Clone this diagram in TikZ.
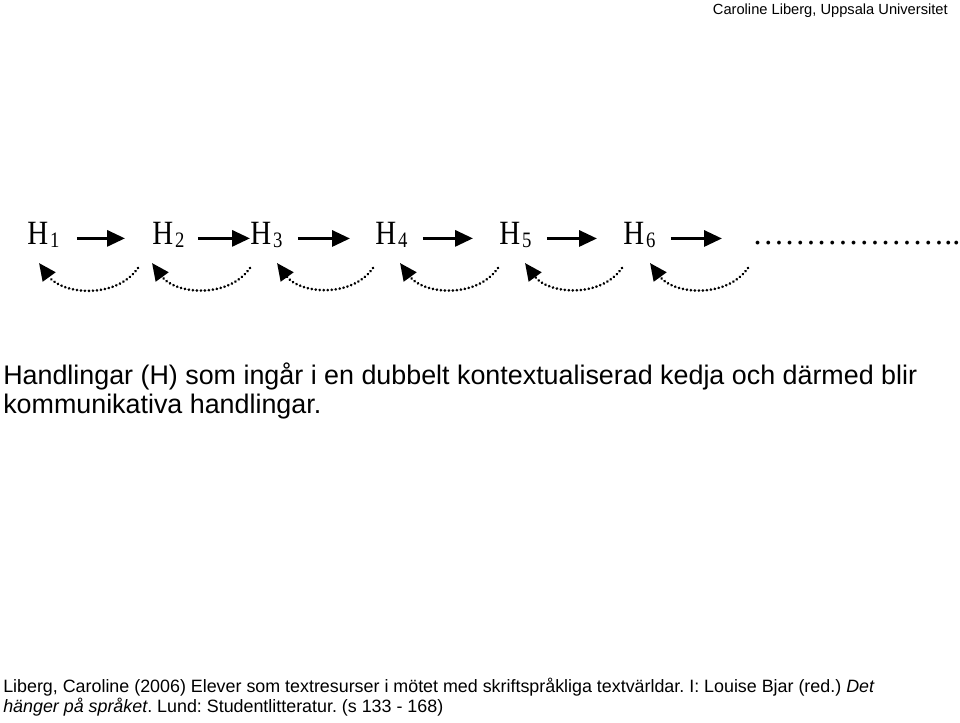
\documentclass[tikz,border=0pt]{standalone}
\usepackage{fontspec}
\setmainfont{Liberation Sans}
\newfontfamily\timesfont[FakeStretch=0.85]{Liberation Serif}
\newfontfamily\dotsfont{Liberation Serif}
\usetikzlibrary{arrows.meta}
\frenchspacing

\newcommand{\hsub}[1]{H\kern1.5pt{\fontsize{16.5}{16.5}\selectfont\raisebox{-2.25pt}{#1}}}

\begin{document}
\begin{tikzpicture}[x=0.75pt, y=-0.75pt,
  hlabel/.style={anchor=base west, inner sep=0pt, font=\timesfont\fontsize{25.5}{25.5}\selectfont},
  chain/.style={line width=2.4pt, transform canvas={yshift=-2.25pt}, -{Triangle[length=13.5pt, width=12pt]}},
  backlink/.style={line width=2.2pt, line cap=round, dash pattern=on 0.01pt off 3pt,
    -{Triangle[length=13pt, width=11.5pt]}}]
\useasboundingbox (0,0) rectangle (960,723);

\node[anchor=base east, inner sep=0pt, font=\fontsize{11}{12}\selectfont] (header) at (948,15) {Caroline Liberg, Uppsala Universitet};

% the chain of actions
\node[hlabel] (h1) at (27,245) {\hsub{1}};
\node[hlabel] (h2) at (152,245) {\hsub{2}};
\node[hlabel] (h3) at (250,245) {\hsub{3}};
\node[hlabel] (h4) at (375,245) {\hsub{4}};
\node[hlabel] (h5) at (499,245) {\hsub{5}};
\node[hlabel] (h6) at (623,245) {\hsub{6}};
\node[hlabel, font=\dotsfont\fontsize{24}{24}\selectfont] (more) at (752,245) {………………..};

\foreach \a/\b/\s/\e in {h1/h2/17/27, h2/h3/13/0, h3/h4/15/25, h4/h5/15/26, h5/h6/15/26, h6/more/15/30}
  \draw[chain, shorten <=\s*0.75pt, shorten >=\e*0.75pt] (\a.east) -- (\a.east -| \b.west);

% links back to the previous action
\foreach \s/\t [count=\i] in {138/39, 250/152, 373/277, 498/400, 622/525, 748/650} {
  \coordinate (s\i) at (\s,268);
  \coordinate (t\i) at (\t,263);
  \draw[backlink] (s\i) to[out=-125, in=-54] (t\i);
}

\node[anchor=base west, inner sep=0pt, align=left, font=\fontsize{20.15}{21}\selectfont] (caption) at (3,413)
  {Handlingar (H) som ingår i en dubbelt kontextualiserad kedja och därmed blir\\kommunikativa handlingar.};

\node[anchor=base west, inner sep=0pt, align=left, font=\fontsize{13.4}{11.6}\selectfont] (source) at (3,712)
  {Liberg, Caroline (2006) Elever som textresurser i mötet med skriftspråkliga textvärldar. I: Louise Bjar (red.) \textit{Det}\\\textit{hänger på språket}. Lund: Studentlitteratur. (s 133 - 168)};
\end{tikzpicture}
\end{document}
